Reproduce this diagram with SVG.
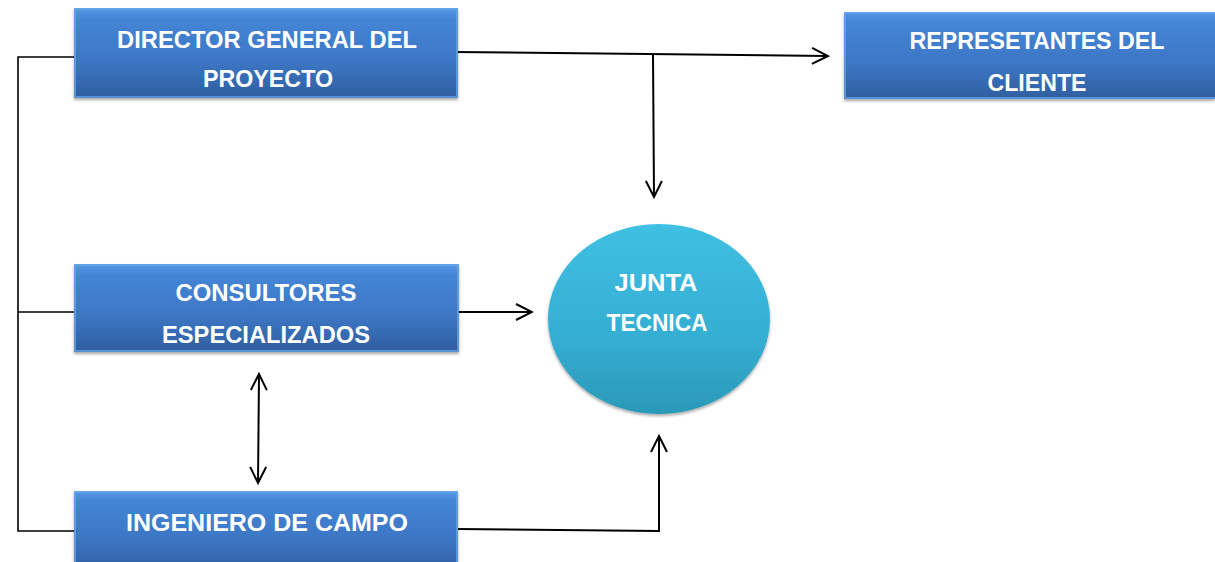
<svg xmlns="http://www.w3.org/2000/svg" width="1215" height="562" viewBox="0 0 1215 562">
<defs>
<linearGradient id="boxg" x1="0" y1="0" x2="0" y2="1">
<stop offset="0" stop-color="#5499e4"/>
<stop offset="0.12" stop-color="#4585d6"/>
<stop offset="0.6" stop-color="#3c76c4"/>
<stop offset="1" stop-color="#2f5e9f"/>
</linearGradient>
<linearGradient id="circg" x1="0" y1="0" x2="0" y2="1">
<stop offset="0" stop-color="#3fc0e2"/>
<stop offset="0.6" stop-color="#35aed3"/>
<stop offset="1" stop-color="#2b98b8"/>
</linearGradient>
<filter id="sh" x="-10%" y="-10%" width="120%" height="130%">
<feDropShadow dx="0" dy="2" stdDeviation="1.5" flood-color="#000" flood-opacity="0.35"/>
</filter>
<marker id="arr" viewBox="0 0 20 20" refX="18" refY="10" markerWidth="20" markerHeight="20" markerUnits="userSpaceOnUse" orient="auto-start-reverse">
<path d="M2,2 L18,10 L2,18" fill="none" stroke="#000" stroke-width="2"/>
</marker>
</defs>
<style>
.box{fill:url(#boxg);filter:url(#sh);}
.bev{fill:none;stroke:#6aa8ec;stroke-width:2;opacity:0.7;}
.t{font-family:"Liberation Sans",Arial,sans-serif;font-weight:bold;font-size:24px;fill:#fff;text-anchor:middle;}
.ln{fill:none;stroke:#000;stroke-width:1.6;}
.ar{fill:none;stroke:#000;stroke-width:2;}
</style>
<g id="connectors">
<polyline class="ln" points="83,57 18,57 18,531 74,531"/>
<line class="ln" x1="18" y1="312" x2="74" y2="312"/>
<line class="ar" x1="454" y1="52" x2="828" y2="56" marker-end="url(#arr)"/>
<line class="ar" x1="653" y1="54" x2="654" y2="197" marker-end="url(#arr)"/>
<line class="ar" x1="456" y1="312" x2="532" y2="312" marker-end="url(#arr)"/>
<line class="ar" x1="259" y1="374" x2="258" y2="483" marker-start="url(#arr)" marker-end="url(#arr)"/>
<polyline class="ar" points="456,529 659,531 659,436" marker-end="url(#arr)"/>
</g>
<g id="director">
<rect class="box" x="74" y="8" width="384" height="90"/>
<rect class="bev" x="75" y="9" width="382" height="88"/>
<text class="t" x="267" y="48" textLength="300" lengthAdjust="spacingAndGlyphs">DIRECTOR GENERAL DEL</text>
<text class="t" x="268" y="87" textLength="130" lengthAdjust="spacingAndGlyphs">PROYECTO</text>
</g>
<g id="representantes">
<rect class="box" x="844" y="12" width="371" height="87"/>
<rect class="bev" x="845" y="13" width="372" height="85"/>
<text class="t" x="1037" y="49" textLength="255" lengthAdjust="spacingAndGlyphs">REPRESETANTES DEL</text>
<text class="t" x="1037" y="91" textLength="99" lengthAdjust="spacingAndGlyphs">CLIENTE</text>
</g>
<g id="consultores">
<rect class="box" x="74" y="264" width="385" height="88"/>
<rect class="bev" x="75" y="265" width="383" height="86"/>
<text class="t" x="266" y="301" textLength="181" lengthAdjust="spacingAndGlyphs">CONSULTORES</text>
<text class="t" x="266" y="343" textLength="208" lengthAdjust="spacingAndGlyphs">ESPECIALIZADOS</text>
</g>
<g id="ingeniero">
<rect class="box" x="74" y="491" width="384" height="80"/>
<rect class="bev" x="75" y="492" width="382" height="78"/>
<text class="t" x="267" y="531" textLength="282" lengthAdjust="spacingAndGlyphs">INGENIERO DE CAMPO</text>
</g>
<g id="junta">
<ellipse cx="659" cy="319" rx="111" ry="95" fill="url(#circg)" filter="url(#sh)"/>
<text class="t" x="656" y="291" textLength="83" lengthAdjust="spacingAndGlyphs">JUNTA</text>
<text class="t" x="657" y="331" textLength="101" lengthAdjust="spacingAndGlyphs">TECNICA</text>
</g>
</svg>
